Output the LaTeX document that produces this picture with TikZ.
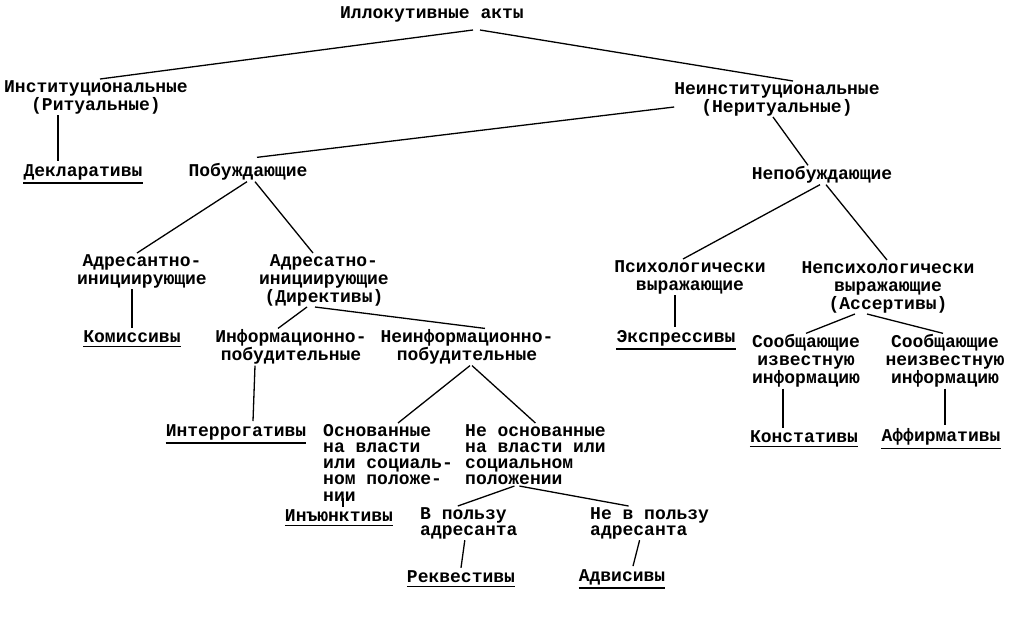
\documentclass[tikz,border=0pt]{standalone}
\usepackage{fontspec}
\setmainfont{Liberation Mono}
\begin{document}
\begin{tikzpicture}[x=1pt,y=-1pt,
  every node/.style={font=\fontsize{18}{18}\selectfont\bfseries, inner xsep=0pt, inner ysep=1pt, align=center},
  conn/.style={line width=1.3pt},
  leaf/.style={inner ysep=3pt, append after command={\pgfextra{\draw[line width=1.3pt] (\tikzlastnode.south west) -- (\tikzlastnode.south east);}}},
  tight/.style={font=\fontsize{18}{16.2}\selectfont\bfseries, align=left, anchor=north west}]
\useasboundingbox[fill=white] (0,0) rectangle (1028,622);

\node (title) at (432,14) {Иллокутивные акты};
\node (inst) at (96,97) {Институциональные\\(Ритуальные)};
\node (noninst) at (777,99) {Неинституциональные\\(Неритуальные)};
\node[leaf] (dekl) at (83,172) {Декларативы};
\node (pob) at (248,172) {Побуждающие};
\node (nepob) at (822,175) {Непобуждающие};
\node (adresant) at (142,271) {Адресантно-\\инициирующие};
\node (adresat) at (324,280) {Адресатно-\\инициирующие\\(Директивы)};
\node (psych) at (690,277) {Психологически\\выражающие};
\node (nonpsych) at (888,287) {Непсихологически\\выражающие\\(Ассертивы)};
\node[leaf] (komis) at (132,337) {Комиссивы};
\node (inform) at (291,347) {Информационно-\\побудительные};
\node (neinform) at (467,347) {Неинформационно-\\побудительные};
\node[leaf] (ekspr) at (676,338) {Экспрессивы};
\node (soob1) at (806,361) {Сообщающие\\известную\\информацию};
\node (soob2) at (945,361) {Сообщающие\\неизвестную\\информацию};
\node[leaf] (interr) at (236,432) {Интеррогативы};
\node[tight] (osn) at (323,423) {Основанные\\на власти\\или социаль-\\ном положе-\\нии};
\node[tight] (neosn) at (465,423) {Не основанные\\на власти или\\социальном\\положении};
\node[leaf] (konst) at (804,437) {Констативы};
\node[leaf] (affirm) at (941,437) {Аффирмативы};
\node[leaf] (inj) at (339,516) {Инъюнктивы};
\node[tight] (vpolzu) at (420,506) {В пользу\\адресанта};
\node[tight] (nevpolzu) at (590,506) {Не в пользу\\адресанта};
\node[leaf] (rekv) at (461,577) {Реквестивы};
\node[leaf] (adv) at (622,577) {Адвисивы};

\draw[conn] ([xshift=41pt,yshift=-7pt]title.south) -- ([xshift=4pt]inst.north);
\draw[conn] ([xshift=48pt,yshift=-7pt]title.south) -- ([xshift=16pt]noninst.north);
\draw[conn] ([xshift=-38pt]inst.south) -- ([xshift=-25pt]dekl.north);
\draw[conn] ([yshift=-8pt]noninst.west) -- ([xshift=9pt,yshift=5pt]pob.north);
\draw[conn] ([xshift=-4pt]noninst.south) -- ([xshift=-14pt]nepob.north);
\draw[conn] ([xshift=-1pt]pob.south) -- ([xshift=-5pt]adresant.north);
\draw[conn] ([xshift=7pt]pob.south) -- ([xshift=-11pt]adresat.north);
\draw[conn] ([xshift=-10pt]adresant.south) -- (komis.north);
\draw[conn] ([xshift=-17pt]adresat.south) -- ([xshift=-13pt]inform.north);
\draw[conn] ([xshift=-9pt]adresat.south) -- ([xshift=18pt]neinform.north);
\draw[conn] ([xshift=-36pt]inform.south) -- ([xshift=17pt]interr.north);
\draw[conn] ([xshift=3pt]neinform.south) -- ([xshift=10pt]osn.north);
\draw[conn] ([xshift=5pt]neinform.south) -- (neosn.north);
\draw[conn] ([xshift=20pt,yshift=4pt]osn.south west) -- ([xshift=4pt]inj.north);
\draw[conn] ([xshift=-21pt]neosn.south) -- ([xshift=-11pt]vpolzu.north);
\draw[conn] ([xshift=-16pt]neosn.south) -- ([xshift=-21pt]nevpolzu.north);
\draw[conn] ([xshift=-4pt]vpolzu.south) -- (rekv.north);
\draw[conn] ([xshift=-10pt]nevpolzu.south) -- ([xshift=11pt]adv.north);
\draw[conn] ([xshift=-2pt]nepob.south) -- ([xshift=-7pt]psych.north);
\draw[conn] ([xshift=4pt]nepob.south) -- ([xshift=-1pt]nonpsych.north);
\draw[conn] ([xshift=-15pt]psych.south) -- ([xshift=-1pt]ekspr.north);
\draw[conn] ([xshift=-33pt]nonpsych.south) -- (soob1.north);
\draw[conn] ([xshift=-21pt]nonpsych.south) -- ([xshift=-2pt]soob2.north);
\draw[conn] ([xshift=-23pt]soob1.south) -- ([xshift=-21pt]konst.north);
\draw[conn] (soob2.south) -- ([xshift=4pt]affirm.north);
\end{tikzpicture}
\end{document}
